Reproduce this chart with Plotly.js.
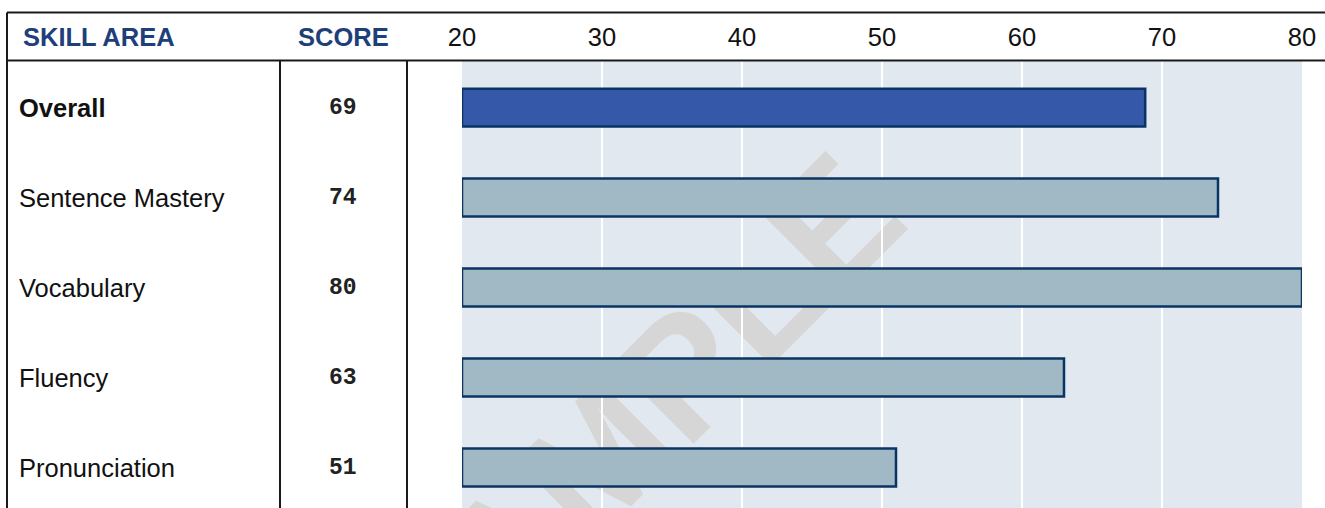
<!DOCTYPE html>
<html>
<head>
<meta charset="utf-8">
<script src="https://cdn.plot.ly/plotly-3.0.1.min.js"></script>
<style>
  html, body { margin: 0; padding: 0; background: #ffffff; }
  #chart { width: 1325px; height: 508px; }
</style>
</head>
<body>
<div id="chart"></div>
<script>
// ---- data ----
const skillAreas = ["Overall", "Sentence Mastery", "Vocabulary", "Fluency", "Pronunciation"];
const scoreLabels = ["69", "74", "80", "63", "51"];
const barValues = [68.8, 74, 80, 63, 51];
const scaleStart = 20;
const scaleEnd = 80;
const tickValues = [20, 30, 40, 50, 60, 70, 80];
const headerLabels = ["SKILL AREA", "SCORE"];
const watermarkText = "SAMPLE";

// ---- styling ----
const overallColor = "#3558a8";
const otherColor = "#a1b8c5";
const outlineColor = "#0a3463";
const headerColor = "#1e3f7a";
const ruleColor = "#1a1a1a";

const plotLeft = 462, plotWidth = 840, plotTop = 61, figH = 508;
const plotH = figH - plotTop;
const px2x = p => (p - plotLeft) / plotWidth;
const py2y = p => (figH - p) / plotH;

const trace = {
  type: "bar",
  orientation: "h",
  y: skillAreas,
  x: barValues.map(v => v - scaleStart),
  base: scaleStart,
  width: 0.42,
  marker: {
    color: skillAreas.map((s, i) => i === 0 ? overallColor : otherColor),
    line: { color: outlineColor, width: 2.5 }
  },
  cliponaxis: false,
  hoverinfo: "skip",
  showlegend: false
};

const annotations = [];
skillAreas.forEach((name, i) => {
  annotations.push({
    xref: "paper", yref: "y", x: px2x(17), y: name,
    xanchor: "left", yanchor: "middle", showarrow: false,
    text: i === 0 ? "<b>" + name + "</b>" : name,
    font: { family: "Liberation Sans, Arial, sans-serif", size: 25.5, color: "#111111" }
  });
  annotations.push({
    xref: "paper", yref: "y", x: px2x(343), y: name,
    xanchor: "center", yanchor: "middle", showarrow: false,
    text: "<b>" + scoreLabels[i] + "</b>",
    font: { family: "Liberation Mono, Courier New, monospace", size: 23, color: "#222222" }
  });
});
annotations.push({
  xref: "paper", yref: "paper", x: px2x(21), y: py2y(37),
  xanchor: "left", yanchor: "middle", showarrow: false,
  text: "<b>" + headerLabels[0] + "</b>",
  font: { family: "Liberation Sans, Arial, sans-serif", size: 25.5, color: headerColor }
});
annotations.push({
  xref: "paper", yref: "paper", x: px2x(343), y: py2y(37),
  xanchor: "center", yanchor: "middle", showarrow: false,
  text: "<b>" + headerLabels[1] + "</b>",
  font: { family: "Liberation Sans, Arial, sans-serif", size: 25.5, color: headerColor }
});

const rule = (x0, y0, x1, y1) => ({
  type: "line", xref: "paper", yref: "paper",
  x0: px2x(x0), y0: py2y(y0), x1: px2x(x1), y1: py2y(y1),
  line: { color: ruleColor, width: 2 }, layer: "above"
});

const shapes = [
  // watermark (behind bars, below grid)
  {
    type: "rect", xref: "paper", yref: "paper",
    x0: px2x(608), x1: px2x(628), y0: py2y(426), y1: py2y(406),
    fillcolor: "rgba(0,0,0,0)", line: { width: 0 }, layer: "below",
    label: {
      text: "<b>" + watermarkText + "</b>",
      textangle: -45,
      textposition: "middle center",
      font: { family: "Liberation Sans, Arial, sans-serif", size: 165, color: "#d6d6d6" }
    }
  },
  rule(7, 12.5, 1325, 12.5),
  rule(7, 60.5, 1325, 60.5),
  rule(7, 12.5, 7, 510),
  rule(280, 60.5, 280, 510),
  rule(407, 60.5, 407, 510)
];

const layout = {
  width: 1325, height: 508,
  margin: { l: plotLeft, r: 1325 - plotLeft - plotWidth, t: plotTop, b: 0, autoexpand: false },
  paper_bgcolor: "#ffffff",
  plot_bgcolor: "#e1e8f0",
  xaxis: {
    side: "top",
    range: [scaleStart, scaleEnd],
    tickvals: tickValues,
    ticktext: tickValues.map(String),
    ticks: "",
    showgrid: true, gridcolor: "#ffffff", gridwidth: 1.5,
    zeroline: false, showline: false,
    tickfont: { family: "Liberation Sans, Arial, sans-serif", size: 25.5, color: "#111111" },
    ticklabelstandoff: 9,
    fixedrange: true
  },
  yaxis: {
    type: "category",
    categoryorder: "array", categoryarray: skillAreas,
    range: [4.45, -0.517],
    autorange: false,
    showticklabels: false, showgrid: false, zeroline: false, showline: false,
    fixedrange: true
  },
  bargap: 0.5,
  annotations: annotations,
  shapes: shapes,
  showlegend: false
};

Plotly.newPlot("chart", [trace], layout, { displayModeBar: false, staticPlot: true });
</script>
</body>
</html>
